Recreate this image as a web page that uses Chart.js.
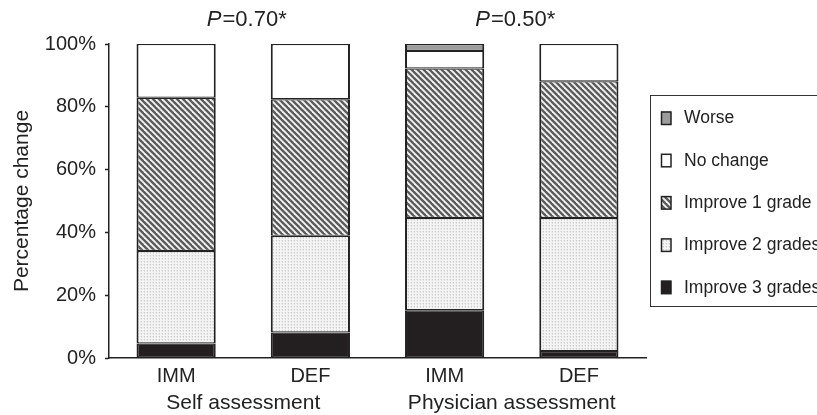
<!DOCTYPE html>
<html><head><meta charset="utf-8">
<script src="https://cdn.jsdelivr.net/npm/chart.js@4"></script>
<style>html,body{margin:0;padding:0;background:#fff;}</style>
</head><body>
<canvas id="c" width="817" height="415"></canvas>
<script>
const categories = ['IMM', 'DEF', 'IMM', 'DEF'];
const groups = ['Self assessment', 'Physician assessment'];
const pValues = ['0.70*', '0.50*'];
const seriesNames = ['Improve 3 grades', 'Improve 2 grades', 'Improve 1 grade', 'No change', 'Worse'];
const improve3 = [4.6, 8.1, 15.2, 2.2];
const improve2 = [29.5, 30.8, 29.4, 42.4];
const improve1 = [48.8, 43.5, 47.6, 43.5];
const noChange = [17.1, 17.6, 5.6, 11.9];
const worse = [0, 0, 2.2, 0];
const yTickStep = 20;
const yMax = 100;

const FONT = '"Liberation Sans", Arial, Helvetica, sans-serif';
const INK = '#222';

function makePattern(w, h, draw) {
  const cv = document.createElement('canvas');
  cv.width = w; cv.height = h;
  const g = cv.getContext('2d');
  draw(g, w, h);
  return document.getElementById('c').getContext('2d').createPattern(cv, 'repeat');
}
const hatch = makePattern(6, 6, (g, w, h) => {
  g.fillStyle = '#f2f2f2'; g.fillRect(0, 0, w, h);
  g.strokeStyle = '#5a5a5a'; g.lineWidth = 2.3;
  for (let o = -6; o <= 6; o += 6) {
    g.beginPath(); g.moveTo(o - 1, -1); g.lineTo(o + 7, 7); g.stroke();
  }
});
const dots = makePattern(3, 3, (g, w, h) => {
  g.fillStyle = '#f4f4f4'; g.fillRect(0, 0, w, h);
  g.fillStyle = '#cdcdcd'; g.fillRect(0, 0, 1, 1);
  g.fillStyle = '#dedede'; g.fillRect(0, 1, 1, 1);
  g.fillStyle = '#e6e6e6'; g.fillRect(2, 0, 1, 1);
});
const fills = ['#231f20', dots, hatch, '#ffffff', '#9c9c9c'];
const seriesData = [improve3, improve2, improve1, noChange, worse];

const datasets = seriesNames.map((name, i) => ({
  label: name,
  data: seriesData[i],
  backgroundColor: fills[i],
  borderColor: INK,
  borderWidth: {top: 1.2, bottom: 1.2, left: 2, right: 2},
  borderSkipped: false,
  barPercentage: 0.59,
  categoryPercentage: 1.0
}));

const annot = {
  id: 'annot',
  afterDraw(chart) {
    const ctx = chart.ctx, xs = chart.scales.x, ca = chart.chartArea;
    ctx.save();
    ctx.fillStyle = INK;
    ctx.textBaseline = 'middle';
    groups.forEach((g, i) => {
      const cx = (xs.getPixelForValue(2 * i) + xs.getPixelForValue(2 * i + 1)) / 2;
      ctx.font = '21px ' + FONT;
      ctx.textAlign = 'center';
      ctx.fillText(g, cx, 403);
      // P value
      const rest = '=' + pValues[i];
      ctx.font = 'italic 22px ' + FONT;
      const wP = ctx.measureText('P').width;
      ctx.font = '22px ' + FONT;
      const wR = ctx.measureText(rest).width;
      const x0 = cx + 3 - (wP + wR) / 2;
      ctx.textAlign = 'left';
      ctx.font = 'italic 22px ' + FONT;
      ctx.fillText('P', x0, 20);
      ctx.font = '22px ' + FONT;
      ctx.fillText(rest, x0 + wP + 1, 20);
    });
    // y title
    ctx.save();
    ctx.translate(22, (ca.top + ca.bottom) / 2);
    ctx.rotate(-Math.PI / 2);
    ctx.textAlign = 'center';
    ctx.font = '21px ' + FONT;
    ctx.fillText('Percentage change', 0, 0);
    ctx.restore();
    // legend
    ctx.strokeStyle = '#333';
    ctx.lineWidth = 1;
    ctx.strokeRect(650.5, 95.5, 200, 211);
    ctx.font = '17.5px ' + FONT;
    ctx.textAlign = 'left';
    const ds = chart.data.datasets;
    for (let k = 0; k < ds.length; k++) {
      const d = ds[ds.length - 1 - k];
      const cy = 118 + k * 42.3;
      ctx.fillStyle = d.backgroundColor;
      ctx.fillRect(661, cy - 6.5, 10, 13);
      ctx.strokeStyle = INK;
      ctx.lineWidth = 1.5;
      ctx.strokeRect(661.5, cy - 6, 9.5, 12.5);
      ctx.fillStyle = INK;
      ctx.fillText(d.label, 684, cy + 0.5);
    }
    ctx.restore();
  }
};

new Chart(document.getElementById('c'), {
  type: 'bar',
  data: { labels: categories, datasets },
  options: {
    responsive: false,
    animation: false,
    devicePixelRatio: 1,
    layout: { padding: { left: 0, right: 171, top: 44, bottom: 0 } },
    plugins: { legend: { display: false }, tooltip: { enabled: false } },
    scales: {
      x: {
        stacked: true,
        grid: { display: false },
        border: { display: true, color: INK, width: 1.5 },
        ticks: { color: INK, font: { family: FONT, size: 20 }, padding: -2 },
        afterFit(s) { s.height = 57; }
      },
      y: {
        stacked: true,
        min: 0, max: yMax,
        grid: { display: true, drawOnChartArea: false, drawTicks: true, tickLength: 4, color: INK, tickColor: INK, tickWidth: 1.5 },
        border: { display: true, color: INK, width: 1.5 },
        ticks: { stepSize: yTickStep, color: INK, padding: 9, font: { family: FONT, size: 20 }, callback: v => v + '%' },
        afterFit(s) { s.width = 109; }
      }
    }
  },
  plugins: [annot]
});
</script>
</body></html>
